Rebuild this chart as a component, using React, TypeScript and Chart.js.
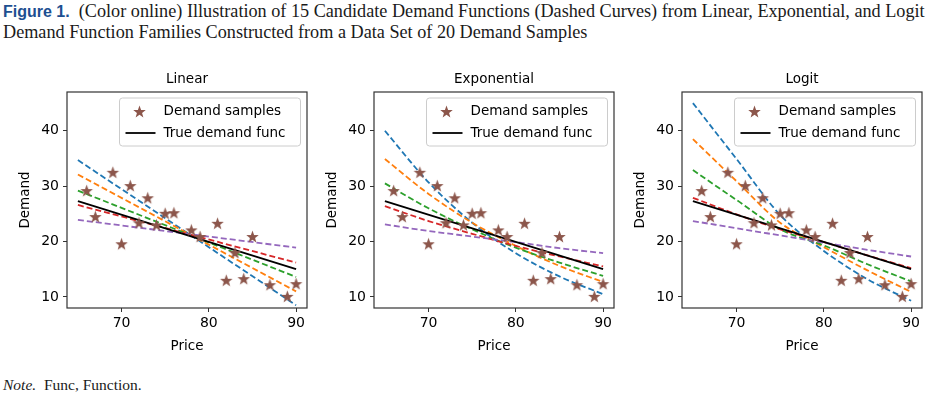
import React, { useEffect, useRef } from 'react';
import { Chart, registerables } from 'chart.js';

Chart.register(...registerables);

// ---------- data ----------
const sampleX = [66, 67, 69, 70, 71, 72, 73, 74, 75, 76, 78, 79, 81, 82, 83, 84, 85, 87, 89, 90];
const sampleY = [29.2, 24.5, 32.5, 19.6, 30.1, 23.4, 27.9, 23.0, 25.1, 25.2, 22.1, 20.9, 23.3, 13.0, 18.0, 13.3, 20.9, 12.2, 10.1, 12.4];

const trueX = [65, 90];
const trueY = [27.3, 15.0];

// Linear family
const linX = [65, 90];
const linBlue = [34.7, 8.5];
const linOrange = [32.1, 11.0];
const linGreen = [29.2, 13.6];
const linRed = [26.6, 16.2];
const linPurple = [23.9, 18.9];

// Exponential family
const expX = [65, 70, 75, 80, 85, 90];
const expBlue = [40.0, 30.7, 23.4, 17.9, 13.7, 10.5];
const expOrange = [34.9, 28.6, 23.4, 19.2, 15.6, 12.7];
const expGreen = [30.5, 26.0, 22.2, 18.9, 16.2, 13.8];
const expRed = [26.4, 23.7, 21.4, 19.2, 17.3, 15.5];
const expPurple = [23.1, 21.9, 20.9, 19.9, 18.8, 17.9];

// Logit family
const logX = [65, 70, 75, 80, 85, 90];
const logBlue = [45.0, 34.9, 24.8, 18.3, 13.2, 9.3];
const logOrange = [38.5, 30.9, 23.4, 19.0, 14.8, 10.9];
const logGreen = [32.9, 27.5, 22.2, 19.3, 15.9, 12.8];
const logRed = [27.9, 24.9, 22.2, 19.9, 17.5, 15.2];
const logPurple = [23.7, 22.4, 21.1, 19.8, 18.5, 17.3];

const xTicks = [70, 80, 90];
const yTicks = [10, 20, 30, 40];
const xMin = 63.75;
const xMax = 91.25;
const yMin = 8;
const yMax = 47;

const panelTitles = ['Linear', 'Exponential', 'Logit'];
const legendLabels = ['Demand samples', 'True demand func'];
const xTitle = 'Price';
const yTitle = 'Demand';

// ---------- style ----------
const COLORS = ['#1f77b4', '#ff7f0e', '#2ca02c', '#d62728', '#9467bd'];
const BROWN = '#8c564b';
const FONT = "'DejaVu Sans', sans-serif";
const FS = 13.5;
const TICK_FS = 14;

function makeStar(): HTMLCanvasElement {
  const s = 15;
  const c = document.createElement('canvas');
  c.width = s;
  c.height = s;
  const ctx = c.getContext('2d')!;
  const cx = s / 2;
  const cy = s / 2 + 0.6;
  const R = 6.6;
  const r = 2.7;
  ctx.beginPath();
  for (let i = 0; i < 10; i++) {
    const ang = -Math.PI / 2 + (i * Math.PI) / 5;
    const rad = i % 2 === 0 ? R : r;
    const px = cx + rad * Math.cos(ang);
    const py = cy + rad * Math.sin(ang);
    if (i === 0) ctx.moveTo(px, py);
    else ctx.lineTo(px, py);
  }
  ctx.closePath();
  ctx.fillStyle = BROWN;
  ctx.fill();
  return c;
}

const framePlugin = {
  id: 'frameLegend',
  afterDraw(chart: any) {
    const { ctx, chartArea } = chart;
    const star: HTMLCanvasElement = chart.options.plugins.frameLegend.star;
    ctx.save();
    // legend box
    const bw = 181;
    const bh = 48;
    const bx = chartArea.right - 6.5 - bw;
    const by = chartArea.top + 6;
    const rr = 3;
    ctx.beginPath();
    ctx.moveTo(bx + rr, by);
    ctx.lineTo(bx + bw - rr, by);
    ctx.arcTo(bx + bw, by, bx + bw, by + rr, rr);
    ctx.lineTo(bx + bw, by + bh - rr);
    ctx.arcTo(bx + bw, by + bh, bx + bw - rr, by + bh, rr);
    ctx.lineTo(bx + rr, by + bh);
    ctx.arcTo(bx, by + bh, bx, by + bh - rr, rr);
    ctx.lineTo(bx, by + rr);
    ctx.arcTo(bx, by, bx + rr, by, rr);
    ctx.closePath();
    ctx.fillStyle = 'rgba(255,255,255,0.8)';
    ctx.fill();
    ctx.strokeStyle = '#cccccc';
    ctx.lineWidth = 1;
    ctx.stroke();

    const row1 = by + 13.5;
    const row2 = by + 35;
    ctx.drawImage(star, bx + 20 - star.width / 2, row1 - star.height / 2);
    ctx.beginPath();
    ctx.moveTo(bx + 6, row2);
    ctx.lineTo(bx + 36, row2);
    ctx.strokeStyle = '#000';
    ctx.lineWidth = 1.8;
    ctx.stroke();

    ctx.fillStyle = '#000';
    ctx.font = `${FS}px ${FONT}`;
    ctx.textBaseline = 'middle';
    ctx.textAlign = 'left';
    ctx.fillText(legendLabels[0], bx + 44, row1);
    ctx.fillText(legendLabels[1], bx + 44, row2);

    // frame (spines)
    ctx.strokeStyle = '#333';
    ctx.lineWidth = 1.2;
    ctx.strokeRect(chartArea.left, chartArea.top, chartArea.right - chartArea.left, chartArea.bottom - chartArea.top);
    ctx.restore();
  },
};

type PanelProps = {
  title: string;
  left: number;
  curveX: number[];
  curves: number[][];
};

function Panel({ title, left, curveX, curves }: PanelProps) {
  const ref = useRef<HTMLCanvasElement>(null);
  useEffect(() => {
    if (!ref.current) return;
    const star = makeStar();
    const curveSets = curves
      .map((c, k) => ({
        label: 'curve' + k,
        data: curveX.map((x, i) => ({ x, y: c[i] })),
        showLine: true,
        borderColor: COLORS[k],
        backgroundColor: COLORS[k],
        borderDash: [6, 3],
        borderWidth: 1.8,
        pointRadius: 0,
        cubicInterpolationMode: 'monotone' as const,
      }))
      .reverse();
    const tickFont = { family: FONT, size: TICK_FS };
    const titleFont = { family: FONT, size: FS };
    const gridOpts = {
      display: true,
      drawOnChartArea: false,
      drawTicks: true,
      tickLength: 4,
      tickColor: '#333',
      tickWidth: 1,
    };
    const chart = new Chart(ref.current, {
      type: 'scatter',
      data: {
        datasets: [
          {
            label: legendLabels[0],
            data: sampleX.map((x, i) => ({ x, y: sampleY[i] })),
            showLine: false,
            pointStyle: star as any,
            pointRadius: 7,
            backgroundColor: BROWN,
            borderColor: BROWN,
          },
          {
            label: legendLabels[1],
            data: trueX.map((x, i) => ({ x, y: trueY[i] })),
            showLine: true,
            borderColor: '#000',
            backgroundColor: '#000',
            borderWidth: 1.8,
            pointRadius: 0,
          },
          ...curveSets,
        ] as any,
      },
      options: {
        animation: false,
        responsive: false,
        events: [],
        layout: { padding: { left: 0, right: 6, top: 0, bottom: 1 } },
        plugins: {
          legend: { display: false },
          tooltip: { enabled: false },
          title: {
            display: true,
            fullSize: false,
            text: title,
            color: '#000',
            font: { family: FONT, size: FS, weight: 'normal', lineHeight: 1.2 },
            padding: { top: 11, bottom: 4.8 },
          },
          frameLegend: { star },
        } as any,
        scales: {
          x: {
            type: 'linear',
            min: xMin,
            max: xMax,
            afterBuildTicks: (s: any) => {
              s.ticks = xTicks.map((v) => ({ value: v }));
            },
            afterFit: (s: any) => {
              s.height = 51;
            },
            ticks: { font: tickFont, color: '#000', padding: 3, maxRotation: 0, autoSkip: false },
            grid: gridOpts,
            border: { display: false },
            title: { display: true, text: xTitle, color: '#000', font: titleFont, padding: { top: 4, bottom: 4 } },
          },
          y: {
            type: 'linear',
            min: yMin,
            max: yMax,
            afterBuildTicks: (s: any) => {
              s.ticks = yTicks.map((v) => ({ value: v }));
            },
            afterFit: (s: any) => {
              s.width = 54;
            },
            ticks: { font: tickFont, color: '#000', padding: 4, autoSkip: false },
            grid: gridOpts,
            border: { display: false },
            title: { display: true, text: yTitle, color: '#000', font: titleFont, padding: { top: 4, bottom: 4 } },
          },
        },
      } as any,
      plugins: [framePlugin],
    });
    return () => chart.destroy();
  }, []);
  return (
    <canvas
      ref={ref}
      width={302}
      height={300}
      style={{ position: 'absolute', left, top: 60, width: 302, height: 300 }}
    />
  );
}

export default function App() {
  return (
    <div style={{ position: 'absolute', left: 0, top: 0, width: 933, height: 399, background: '#fff', overflow: 'hidden' }}>
      <div
        style={{
          position: 'absolute',
          left: 3,
          top: 1,
          fontFamily: "'Liberation Serif', serif",
          fontSize: 18.2,
          lineHeight: '20px',
          whiteSpace: 'nowrap',
          color: '#1a1a1a',
        }}
      >
        <span style={{ fontFamily: "'Liberation Sans', sans-serif", fontWeight: 'bold', color: '#1d4f91', fontSize: 16 }}>
          Figure 1.
        </span>
        &nbsp; (Color online) Illustration of 15 Candidate Demand Functions (Dashed Curves) from Linear, Exponential, and Logit
        <br />
        Demand Function Families Constructed from a Data Set of 20 Demand Samples
      </div>
      <Panel title={panelTitles[0]} left={13} curveX={linX} curves={[linBlue, linOrange, linGreen, linRed, linPurple]} />
      <Panel title={panelTitles[1]} left={320} curveX={expX} curves={[expBlue, expOrange, expGreen, expRed, expPurple]} />
      <Panel title={panelTitles[2]} left={628} curveX={logX} curves={[logBlue, logOrange, logGreen, logRed, logPurple]} />
      <div
        style={{
          position: 'absolute',
          left: 3,
          top: 376,
          fontFamily: "'Liberation Serif', serif",
          fontSize: 15.5,
          whiteSpace: 'nowrap',
          color: '#1a1a1a',
        }}
      >
        <i>Note.</i>&nbsp; Func, Function.
      </div>
    </div>
  );
}
